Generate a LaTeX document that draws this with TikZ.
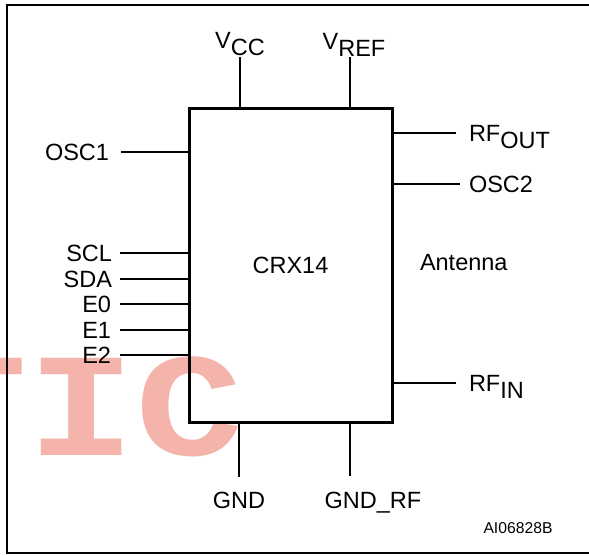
\documentclass[tikz,border=0pt]{standalone}
\usepackage{fontspec}
\setmainfont{Liberation Sans}
\newfontfamily\wmfont{Liberation Mono Bold}
\usepackage{tikz}
\usetikzlibrary{positioning}
\definecolor{cW}{HTML}{F4B4AC}
% pin name with lowered suffix
\newcommand{\pinsub}[2]{#1\raisebox{-7pt}{#2}}
\newcommand{\pinsubs}[2]{#1\raisebox{-7pt}[0pt][0pt]{#2}}
\tikzset{
  chip/.style={draw,line width=3pt,minimum width=203pt,minimum height=314pt,outer sep=0pt,inner sep=0pt,font=\fontsize{23.5}{28}\selectfont},
  pin/.style={line width=2pt},
  lbl/.style={inner sep=0pt,outer sep=0pt,font=\fontsize{23.5}{28}\selectfont},
  frame/.style={line width=2.5pt},
  tag/.style={inner sep=0pt,font=\fontsize{15.7}{18}\selectfont},
  wmark/.style={inner sep=0pt,text=cW,font=\wmfont\fontsize{180}{180}\selectfont},
}
\begin{document}
\begin{tikzpicture}[x=1pt,y=-1pt,node distance=8pt]
  \useasboundingbox (0,0) rectangle (589,555);
  \fill[white] (0,0) rectangle (589,555);
  % watermark behind the drawing
  \begin{scope}
    \clip (0,0) rectangle (589,555);
    \node[wmark,anchor=base west,yscale=0.82,transform shape] (wm) at (-81,455) {TIC};
  \end{scope}
  % outer frame
  \draw[frame] (592,5) -- (7,5) -- (7,553) -- (592,553);
  % the device
  \node[chip] (chip) at (290.5,265) {CRX14};
  % top pins
  \coordinate (vcc) at (240,57);
  \coordinate (vref) at (350,57);
  \draw[pin] (vcc) -- (vcc |- chip.north);
  \draw[pin] (vref) -- (vref |- chip.north);
  \node[lbl,above=1pt of vcc] (vcc-l) {\pinsub{V}{CC}};
  \node[lbl,above=1pt of vref,xshift=4pt] (vref-l) {\pinsub{V}{REF}};
  % bottom pins
  \coordinate (gnd) at (239,477);
  \coordinate (gndrf) at (350,476);
  \draw[pin] (gnd) -- (gnd |- chip.south);
  \draw[pin] (gndrf) -- (gndrf |- chip.south);
  \node[lbl,below=15pt of gnd] (gnd-l) {GND};
  \node[lbl,below=16pt of gndrf,xshift=23pt] (gndrf-l) {GND\_RF};
  % left pins
  \coordinate (osc1) at (121,152);
  \coordinate (scl) at (120,253);
  \coordinate (sda) at (120,279);
  \coordinate (e0) at (120,304);
  \coordinate (e1) at (120,330);
  \coordinate (e2) at (120,355);
  \draw[pin] (osc1) -- (osc1 -| chip.west);
  \draw[pin] (scl) -- (scl -| chip.west);
  \draw[pin] (sda) -- (sda -| chip.west);
  \draw[pin] (e0) -- (e0 -| chip.west);
  \draw[pin] (e1) -- (e1 -| chip.west);
  \draw[pin] (e2) -- (e2 -| chip.west);
  \node[lbl,left=12pt of osc1] (osc1-l) {OSC1};
  \node[lbl,left=8pt of scl] (scl-l) {SCL};
  \node[lbl,left=8pt of sda] (sda-l) {SDA};
  \node[lbl,left=9pt of e0] (e0-l) {E0};
  \node[lbl,left=9pt of e1] (e1-l) {E1};
  \node[lbl,left=9pt of e2] (e2-l) {E2};
  % right pins
  \coordinate (rfout) at (456,133);
  \coordinate (osc2) at (460,184);
  \coordinate (rfin) at (456,383);
  \draw[pin] (rfout) -- (rfout -| chip.east);
  \draw[pin] (osc2) -- (osc2 -| chip.east);
  \draw[pin] (rfin) -- (rfin -| chip.east);
  \node[lbl,right=13pt of rfout] (rfout-l) {\pinsubs{RF}{OUT}};
  \node[lbl,right=9pt of osc2] (osc2-l) {OSC2};
  \node[lbl,right=13pt of rfin] (rfin-l) {\pinsubs{RF}{IN}};
  \node[lbl,anchor=west] (ant) at (420,263) {Antenna};
  % drawing code
  \node[tag] (code) at (518,528) {AI06828B};
\end{tikzpicture}
\end{document}
